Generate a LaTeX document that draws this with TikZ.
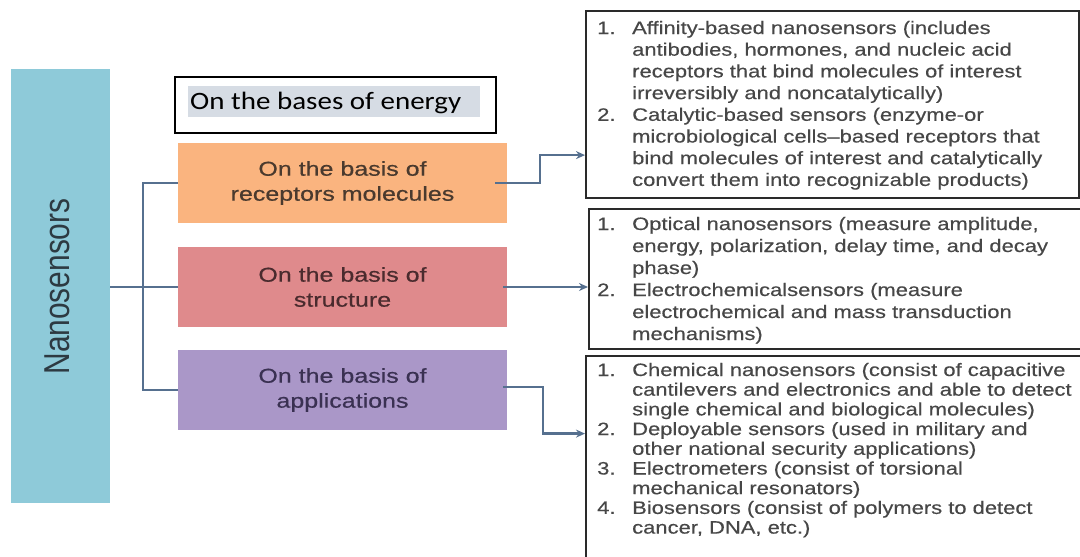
\documentclass[tikz,border=0pt]{standalone}
\usepackage{fontspec}
\setmainfont{Liberation Sans}
\newfontfamily\labfont[FakeStretch=1.25,FakeBold=0.5]{Liberation Sans}
\newfontfamily\listfont[FakeStretch=1.22,FakeBold=0.4]{Liberation Sans}
\newfontfamily\nanofont[FakeStretch=0.83]{Liberation Sans}
\newfontfamily\calfont[FakeStretch=1.16]{Carlito}
\usetikzlibrary{arrows.meta}
\definecolor{barblue}{HTML}{8ECAD9}
\definecolor{nanotxt}{HTML}{2D3A42}
\definecolor{orange1}{HTML}{FAB47F}
\definecolor{orangetxt}{HTML}{4A3A2E}
\definecolor{pink1}{HTML}{DF8A8C}
\definecolor{pinktxt}{HTML}{4A2B2E}
\definecolor{purple1}{HTML}{AA97C8}
\definecolor{purpletxt}{HTML}{3A3152}
\definecolor{connblue}{HTML}{56708F}
\definecolor{boxline}{HTML}{2A2A2A}
\definecolor{listgrey}{HTML}{474747}
\definecolor{energyhl}{HTML}{D6DCE4}
\begin{document}
\begin{tikzpicture}[x=1pt,y=-1pt,
  catbox/.style={minimum width=329pt, minimum height=80pt, inner sep=0pt, align=center,
    font=\labfont\fontsize{20}{25}\selectfont},
  listbox/.style={draw=boxline, line width=2.2pt, inner sep=0pt, anchor=north west},
  conn/.style={draw=connblue, line width=2.3pt},
  arr/.style={conn, -{Stealth[length=9pt,width=8pt]}},
  listtext/.style={anchor=base west, inner sep=0pt, text=listgrey,
    font=\listfont\fontsize{18}{#1}\selectfont}
]
\useasboundingbox (0,0) rectangle (1080,557);
\clip (0,0) rectangle (1080,557);

% left bar
\node[rectangle, fill=barblue, minimum width=99pt, minimum height=434pt, inner sep=0pt] (bar) at (60.5,286) {};
\node[rotate=90, anchor=base, inner sep=0pt, text=nanotxt,
  font=\nanofont\fontsize{36}{40}\selectfont] (nano) at (69,286.5) {Nanosensors};

% energy box
\node[draw=black, line width=1.5pt, minimum width=321pt, minimum height=56pt, inner sep=0pt] (energybox) at (335.5,105) {};
\node[fill=energyhl, minimum width=292pt, minimum height=31pt, inner sep=0pt] (hl) at (334,101.5) {};
\node[anchor=base west, inner sep=0pt, font=\calfont\fontsize{25}{30}\selectfont] (energy) at (190,109) {On the bases of energy};

% category boxes
\node[catbox, fill=orange1, text=orangetxt] (orange) at (342.5,183) {On the basis of\\receptors molecules};
\node[catbox, fill=pink1, text=pinktxt] (pink) at (342.5,287) {On the basis of\\structure};
\node[catbox, fill=purple1, text=purpletxt] (purple) at (342.5,390) {On the basis of\\applications};

% right boxes
\node[listbox, minimum width=493pt, minimum height=187pt] (box1) at (585,10) {};
\node[listbox, minimum width=494pt, minimum height=140pt] (box2) at (588,208) {};
\node[listbox, minimum width=497pt, minimum height=215pt] (box3) at (585,355) {};

\node[listtext=21.7] (list1) at (597,34) {\begin{tabular}[t]{@{}p{35pt}@{}l@{}}
1. & Affinity-based nanosensors (includes\\
   & antibodies, hormones, and nucleic acid\\
   & receptors that bind molecules of interest\\
   & irreversibly and noncatalytically)\\
2. & Catalytic-based sensors (enzyme-or\\
   & microbiological cells–based receptors that\\
   & bind molecules of interest and catalytically\\
   & convert them into recognizable products)
\end{tabular}};

\node[listtext=22] (list2) at (597,230) {\begin{tabular}[t]{@{}p{35pt}@{}l@{}}
1. & Optical nanosensors (measure amplitude,\\
   & energy, polarization, delay time, and decay\\
   & phase)\\
2. & Electrochemicalsensors (measure\\
   & electrochemical and mass transduction\\
   & mechanisms)
\end{tabular}};

\node[listtext=19.7] (list3) at (597,376) {\begin{tabular}[t]{@{}p{35pt}@{}l@{}}
1. & Chemical nanosensors (consist of capacitive\\
   & cantilevers and electronics and able to detect\\
   & single chemical and biological molecules)\\
2. & Deployable sensors (used in military and\\
   & other national security applications)\\
3. & Electrometers (consist of torsional\\
   & mechanical resonators)\\
4. & Biosensors (consist of polymers to detect\\
   & cancer, DNA, etc.)
\end{tabular}};

% connectors
\draw[conn] (bar.east |- pink.west) -- (pink.west);
\draw[conn] (orange.west) -- ++(-35,0) |- (purple.west);
\draw[arr] ([xshift=-12pt]orange.east) -- ++(45,0) |- ([yshift=-50.5pt]box1.west);
\draw[arr] ([xshift=-4pt]pink.east) -- (pink.east -| box2.west);
\draw[arr] ([xshift=-4pt,yshift=3pt]purple.east) -- ++(40,0) |- ([yshift=30pt]box3.west);
\end{tikzpicture}
\end{document}
